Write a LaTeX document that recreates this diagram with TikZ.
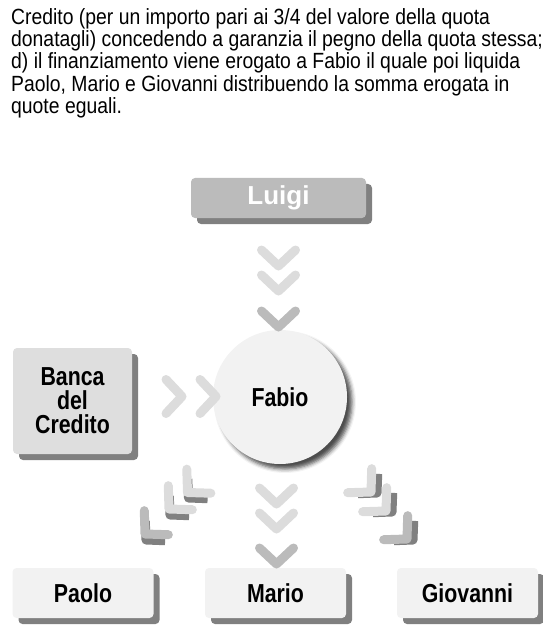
\documentclass[tikz,border=0pt]{standalone}
\usepackage{fontspec}
\setmainfont{Liberation Sans}[FakeStretch=0.82]
\newfontfamily\bodyfont{Liberation Sans}[FakeStretch=0.88]
\newfontfamily\widefont{Liberation Sans}
\usetikzlibrary{positioning,shadows,shadows.blur}
\definecolor{boxgray}{HTML}{BBBBBB}
\definecolor{shadegray}{HTML}{808080}
\definecolor{lightbox}{HTML}{F2F2F2}
\definecolor{bankgray}{HTML}{DEDEDE}
\definecolor{chevlight}{HTML}{DCDCDC}
\definecolor{chevdark}{HTML}{BBBBBB}

\begin{document}
\begin{tikzpicture}[x=1pt,y=-1pt,
    box/.style={rectangle,rounded corners=4pt,fill=lightbox,inner sep=0pt,
      minimum width=141pt,minimum height=50pt,align=center,
      font=\bfseries\fontsize{26}{24}\selectfont,
      drop shadow={shadow xshift=6pt,shadow yshift=-6pt,fill=shadegray,opacity=1}},
    chev/.pic={\draw[line width=9pt,line cap=round,line join=round] (-17,-16) -- (0,0) -- (17,-16);},
    chevshade/.pic={\draw[shadegray,line width=9pt,line join=round] (-14,-13) -- (0,0) -- (14,-13);}
  ]
  \useasboundingbox (0,0) rectangle (542,636);

  \node[anchor=north west,align=left,inner sep=0pt,font=\bodyfont\fontsize{22}{22.4}\selectfont] (testo) at (11,8)
    {Credito (per un importo pari ai 3/4 del valore della quota\\
     donatagli) concedendo a garanzia il pegno della quota stessa;\\
     d) il finanziamento viene erogato a Fabio il quale poi liquida\\
     Paolo, Mario e Giovanni distribuendo la somma erogata in\\
     quote eguali.};

  \node[box,fill=boxgray,text=white,minimum width=175pt,minimum height=40pt,
        font=\widefont\bfseries\fontsize{26}{23}\selectfont] (luigi) at (278.5,198) {Luigi};
  \node[box,fill=bankgray,minimum width=119pt,minimum height=106pt] (banca) at (72.5,401) {Banca\\del\\Credito};
  \node[circle,fill=lightbox,minimum size=134pt,inner sep=0pt,
        font=\bfseries\fontsize{26}{22}\selectfont,
        blur shadow={shadow xshift=5pt,shadow yshift=-5pt,shadow blur radius=4pt,shadow opacity=70}] (fabio) at (280,397) {Fabio};
  \node[box] (paolo) at (83,593) {Paolo};
  \node[box] (mario) at (275.5,593) {Mario};
  \node[box] (giovanni) at (467.5,593) {Giovanni};

  % Luigi -> Fabio
  \pic[chevlight] at (278.5,266) {chev};
  \pic[chevlight] at (278.5,291) {chev};
  \pic[chevdark] at (278.5,327) {chev};
  % Banca -> Fabio
  \pic[chevlight,rotate=90] at (182,396.5) {chev};
  \pic[chevlight,rotate=90] at (216,396.5) {chev};
  % Fabio -> Mario
  \pic[chevlight] at (276.5,504) {chev};
  \pic[chevlight] at (276.5,529) {chev};
  \pic[chevdark] at (276.5,564) {chev};
  % Fabio -> Paolo
  \pic[rotate=-45] at (188.5,498) {chevshade};
  \pic[chevlight,rotate=-45] at (187.5,492.5) {chev};
  \pic[rotate=-45] at (170,515) {chevshade};
  \pic[chevlight,rotate=-45] at (169,509) {chev};
  \pic[rotate=-45] at (146,540) {chevshade};
  \pic[chevdark,rotate=-45] at (145,534) {chev};
  % Fabio -> Giovanni
  \pic[rotate=45] at (377,493) {chevshade};
  \pic[chevlight,rotate=45] at (371,492) {chev};
  \pic[rotate=45] at (392,512) {chevshade};
  \pic[chevlight,rotate=45] at (386,511) {chev};
  \pic[rotate=45] at (413,540) {chevshade};
  \pic[chevdark,rotate=45] at (407,539) {chev};
\end{tikzpicture}
\end{document}
